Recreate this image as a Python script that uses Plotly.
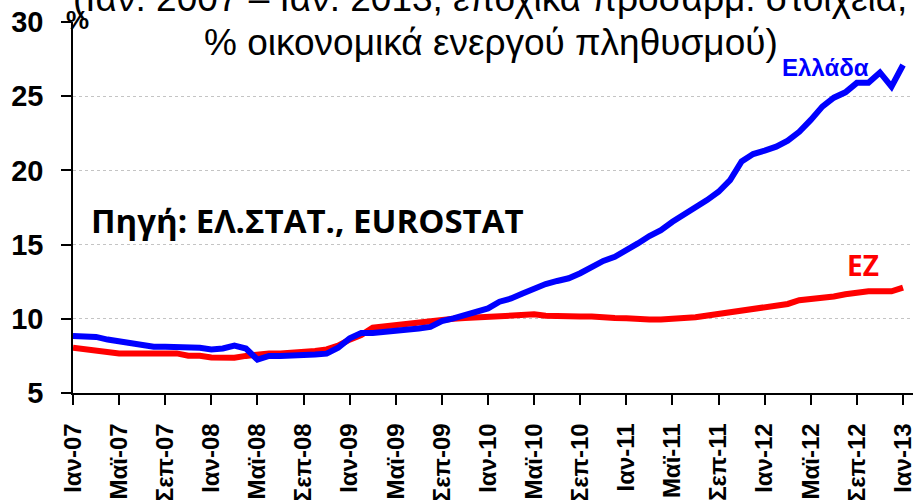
import plotly.graph_objects as go

# ---- data ----
month_names = ["Ιαν", "Φεβ", "Μαρ", "Απρ", "Μαϊ", "Ιουν", "Ιουλ", "Αυγ", "Σεπ", "Οκτ", "Νοε", "Δεκ"]
years = ["07", "08", "09", "10", "11", "12", "13"]
months = [f"{m}-{y}" for y in years for m in month_names][:73]  # Ιαν-07 ... Ιαν-13
tick_labels = months[::4]

greece = [8.84, 8.84, 8.78, 8.6, 8.46, 8.35, 8.19, 8.12, 8.12, 8.12, 8.05, 8.05,
          7.94, 8.0, 8.2, 8.0, 7.25, 7.5, 7.5, 7.5, 7.6, 7.6, 7.65, 8.05,
          8.68, 9.04, 9.04, 9.1, 9.2, 9.25, 9.35, 9.45, 9.85, 10.03, 10.26, 10.48,
          10.7, 11.15, 11.37, 11.7, 12.05, 12.34, 12.55, 12.73, 13.07, 13.51, 13.9, 14.18,
          14.59, 15.08, 15.58, 15.98, 16.54, 17.0, 17.55, 18.0, 18.56, 19.35, 20.6, 21.1,
          21.33, 21.6, 22.0, 22.6, 23.4, 24.3, 24.9, 25.26, 25.9, 25.9, 26.6, 25.65,
          27.1]

ez = [8.05, 7.96, 7.85, 7.74, 7.67, 7.67, 7.67, 7.67, 7.67, 7.67, 7.51, 7.51,
      7.4, 7.38, 7.38, 7.5, 7.62, 7.67, 7.67, 7.7, 7.83, 7.83, 7.94, 8.19,
      8.6, 8.9, 9.4, 9.5, 9.58, 9.67, 9.76, 9.85, 9.98, 10.0, 10.05, 10.1,
      10.15, 10.2, 10.2, 10.3, 10.3, 10.2, 10.15, 10.15, 10.15, 10.15, 10.15, 10.05,
      10.03, 9.96, 9.96, 9.96, 9.96, 10.05, 10.1, 10.2, 10.3, 10.45, 10.5, 10.7,
      10.8, 10.85, 11.0, 11.25, 11.3, 11.45, 11.5, 11.65, 11.8, 11.85, 11.85, 11.85,
      12.1]

y_ticks = [5, 10, 15, 20, 25, 30]

title_line1 = "(Ιαν. 2007 – Ιαν. 2013, εποχικά προσαρμ. στοιχεία,"
title_line2 = "% οικονομικά ενεργού πληθυσμού)"
source_text = "Πηγή: ΕΛ.ΣΤΑΤ., EUROSTAT"

# ---- figure ----
W, H = 914, 500
L, R, T, B = 73, 1, 22, 107
pw, ph = W - L - R, H - T - B


def px(x):
    return (x - L) / pw


def py(y):
    return (H - B - y) / ph


fig = go.Figure()
fig.add_trace(go.Scatter(x=months, y=ez, mode="lines", name="EZ",
                         line=dict(color="#FF0000", width=6)))
fig.add_trace(go.Scatter(x=months, y=greece, mode="lines", name="Ελλάδα",
                         line=dict(color="#0000FF", width=6)))

arial = "Liberation Sans"
calibri = "Open Sans"

fig.update_layout(
    width=W, height=H,
    margin=dict(l=L, r=R, t=T, b=B, autoexpand=False),
    paper_bgcolor="white", plot_bgcolor="white",
    showlegend=False,
    xaxis=dict(
        type="category", range=[0, pw / 11.528],
        tickmode="array", tickvals=tick_labels,
        ticktext=[f"<b>{t}</b>" for t in tick_labels],
        tickangle=-90, ticks="outside", ticklen=10, tickwidth=1.5, tickcolor="black",
        showline=True, linecolor="black", linewidth=1.5,
        showgrid=False, zeroline=False, automargin=False,
        tickfont=dict(family=arial, size=24, color="black"),
        ticklabelstandoff=9,
    ),
    yaxis=dict(
        range=[5, 30], tickmode="array", tickvals=y_ticks,
        ticktext=[f"<b>{v}</b>" for v in y_ticks],
        ticks="outside", ticklen=10, tickwidth=1.5, tickcolor="black",
        showline=True, linecolor="black", linewidth=1.5,
        showgrid=True, gridcolor="#c4c4c4", gridwidth=1, griddash="dot",
        zeroline=False, automargin=False,
        tickfont=dict(family=arial, size=29, color="black"),
        ticklabelstandoff=12,
    ),
)

ann = [
    dict(text=title_line1, x=px(490), y=py(-1), font=dict(family=arial, size=37, color="black")),
    dict(text=title_line2, x=px(491), y=py(42), font=dict(family=arial, size=37, color="black")),
    dict(text="<b>%</b>", x=px(77), y=py(20), font=dict(family=arial, size=26, color="black")),
    dict(text=f"<b>{source_text}</b>", x=px(307), y=py(220), font=dict(family=calibri, size=33, color="black")),
    dict(text="<b>Ελλάδα</b>", x=px(825), y=py(67), font=dict(family=arial, size=24, color="#0000FF")),
    dict(text="<b>EZ</b>", x=px(863), y=py(265), font=dict(family=calibri, size=28, color="#FF0000")),
]
for a in ann:
    fig.add_annotation(xref="paper", yref="paper", showarrow=False,
                       xanchor="center", yanchor="middle", **a)

fig.write_html("out.html", config={"displayModeBar": False},
               post_script="document.body.style.margin='0';")
